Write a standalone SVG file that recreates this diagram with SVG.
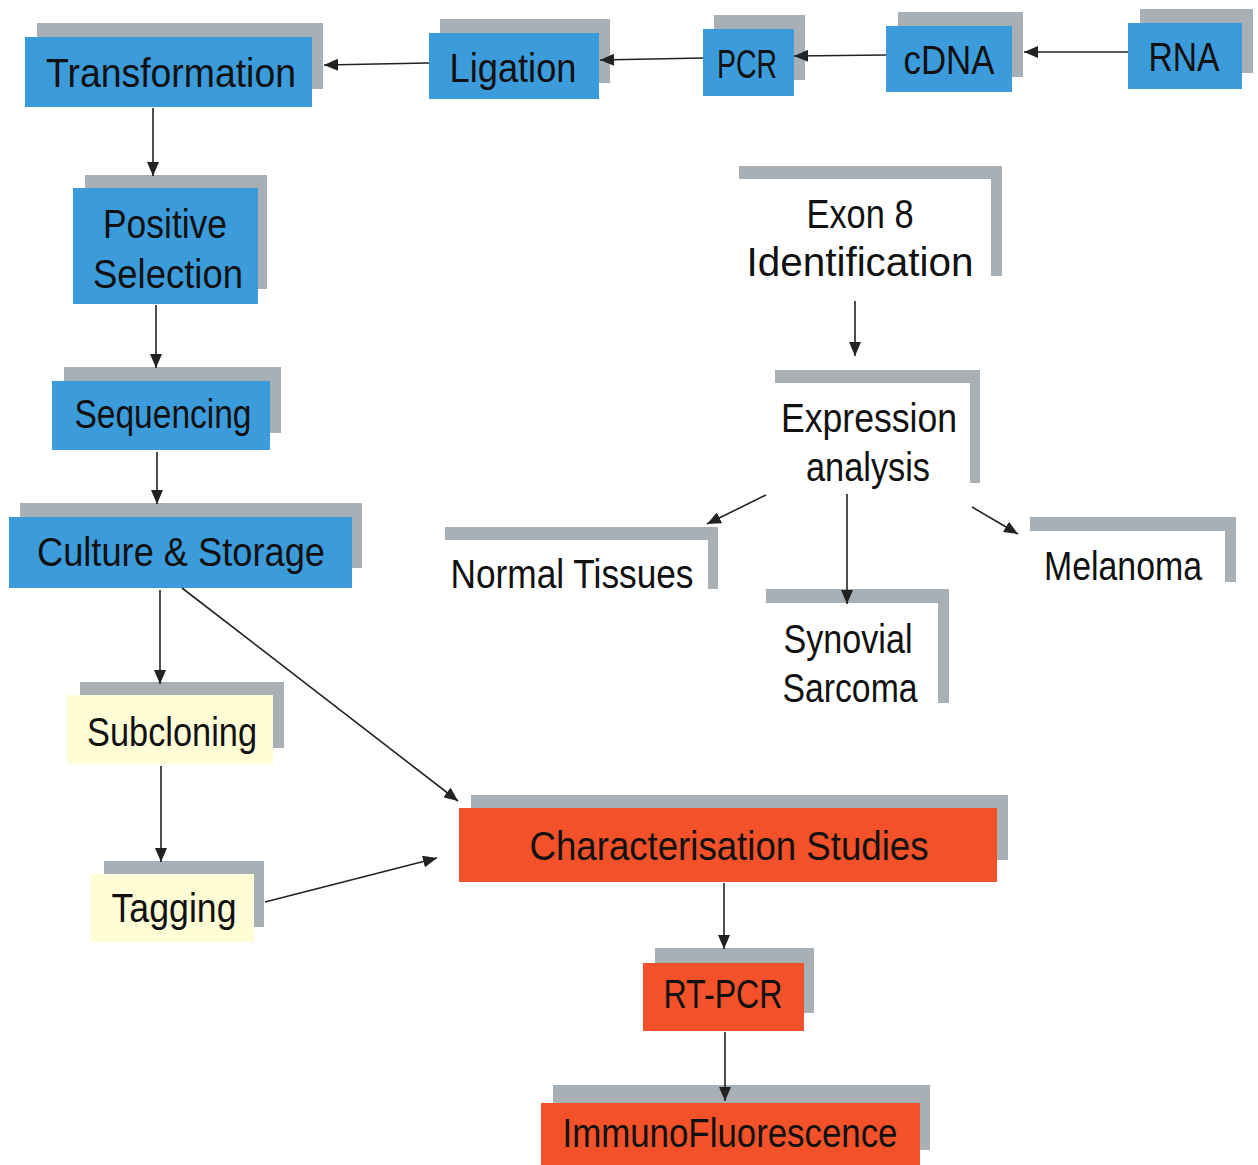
<svg xmlns="http://www.w3.org/2000/svg" width="1258" height="1165" viewBox="0 0 1258 1165">
<style>
.sh{fill:#A8B0B5}
.bl{fill:#3C9BDA}
.rd{fill:#F2512A}
.yl{fill:#FFFDD6}
.t{font-family:"Liberation Sans",Arial,sans-serif;font-size:40px;fill:#111;text-anchor:middle}
.c line{stroke:#222;stroke-width:1.6;marker-end:url(#ah)}
</style>
<defs>
<marker id="ah" markerUnits="userSpaceOnUse" markerWidth="14" markerHeight="12" refX="14" refY="6" orient="auto">
<path d="M0,0 L14,6 L0,12 z" fill="#222"/>
</marker>
</defs>
<rect width="1258" height="1165" fill="#fff"/>

<g id="transformation">
<rect class="sh" x="37" y="23" width="286" height="66"/>
<rect class="bl" x="25" y="37" width="287" height="70"/>
<text class="t" x="171" y="87" textLength="250" lengthAdjust="spacingAndGlyphs">Transformation</text>
</g>
<g id="ligation">
<rect class="sh" x="440" y="19" width="170" height="64"/>
<rect class="bl" x="429" y="33" width="170" height="66"/>
<text class="t" x="513" y="82" textLength="127" lengthAdjust="spacingAndGlyphs">Ligation</text>
</g>
<g id="pcr">
<rect class="sh" x="714" y="15" width="91" height="65"/>
<rect class="bl" x="703" y="29" width="91" height="67"/>
<text class="t" x="747" y="78" textLength="60" lengthAdjust="spacingAndGlyphs">PCR</text>
</g>
<g id="cdna">
<rect class="sh" x="898" y="12" width="125" height="65"/>
<rect class="bl" x="886" y="26" width="126" height="66"/>
<text class="t" x="949" y="74" textLength="91" lengthAdjust="spacingAndGlyphs">cDNA</text>
</g>
<g id="rna">
<rect class="sh" x="1140" y="9" width="113" height="64"/>
<rect class="bl" x="1128" y="23" width="114" height="66"/>
<text class="t" x="1184" y="71" textLength="71" lengthAdjust="spacingAndGlyphs">RNA</text>
</g>
<g id="positive-selection">
<rect class="sh" x="85" y="175" width="182" height="114"/>
<rect class="bl" x="73" y="188" width="185" height="116"/>
<text class="t" x="165" y="238" textLength="124" lengthAdjust="spacingAndGlyphs">Positive</text>
<text class="t" x="168" y="288" textLength="150" lengthAdjust="spacingAndGlyphs">Selection</text>
</g>
<g id="sequencing">
<rect class="sh" x="64" y="367" width="217" height="66"/>
<rect class="bl" x="52" y="381" width="218" height="69"/>
<text class="t" x="163" y="428" textLength="177" lengthAdjust="spacingAndGlyphs">Sequencing</text>
</g>
<g id="culture-storage">
<rect class="sh" x="20" y="503" width="342" height="65"/>
<rect class="bl" x="9" y="517" width="343" height="71"/>
<text class="t" x="181" y="566" textLength="288" lengthAdjust="spacingAndGlyphs">Culture &amp; Storage</text>
</g>
<g id="subcloning">
<rect class="sh" x="80" y="682" width="204" height="66"/>
<rect class="yl" x="67" y="695" width="206" height="69"/>
<text class="t" x="172" y="746" textLength="170" lengthAdjust="spacingAndGlyphs">Subcloning</text>
</g>
<g id="tagging">
<rect class="sh" x="104" y="861" width="160" height="66"/>
<rect class="yl" x="91" y="874" width="163" height="68"/>
<text class="t" x="174" y="922" textLength="125" lengthAdjust="spacingAndGlyphs">Tagging</text>
</g>
<g id="characterisation">
<rect class="sh" x="471" y="795" width="537" height="65"/>
<rect class="rd" x="459" y="808" width="538" height="74"/>
<text class="t" x="729" y="860" textLength="399" lengthAdjust="spacingAndGlyphs">Characterisation Studies</text>
</g>
<g id="rt-pcr">
<rect class="sh" x="655" y="948" width="159" height="65"/>
<rect class="rd" x="643" y="963" width="161" height="68"/>
<text class="t" x="723" y="1008" textLength="119" lengthAdjust="spacingAndGlyphs">RT-PCR</text>
</g>
<g id="immunofluorescence">
<rect class="sh" x="553" y="1085" width="377" height="65"/>
<rect class="rd" x="541" y="1103" width="379" height="62"/>
<text class="t" x="730" y="1147" textLength="335" lengthAdjust="spacingAndGlyphs">ImmunoFluorescence</text>
</g>
<g id="exon8">
<rect class="sh" x="739" y="166" width="263" height="13"/>
<rect class="sh" x="991" y="166" width="11" height="110"/>
<text class="t" x="860" y="228" textLength="107" lengthAdjust="spacingAndGlyphs">Exon 8</text>
<text class="t" x="860" y="276" textLength="227" lengthAdjust="spacingAndGlyphs">Identification</text>
</g>
<g id="expression">
<rect class="sh" x="775" y="370" width="205" height="13"/>
<rect class="sh" x="970" y="370" width="10" height="113"/>
<text class="t" x="869" y="432" textLength="176" lengthAdjust="spacingAndGlyphs">Expression</text>
<text class="t" x="868" y="481" textLength="124" lengthAdjust="spacingAndGlyphs">analysis</text>
</g>
<g id="normal-tissues">
<rect class="sh" x="445" y="527" width="273" height="13"/>
<rect class="sh" x="708" y="527" width="10" height="62"/>
<text class="t" x="572" y="588" textLength="243" lengthAdjust="spacingAndGlyphs">Normal Tissues</text>
</g>
<g id="synovial-sarcoma">
<rect class="sh" x="766" y="589" width="183" height="14"/>
<rect class="sh" x="938" y="589" width="11" height="114"/>
<text class="t" x="848" y="653" textLength="129" lengthAdjust="spacingAndGlyphs">Synovial</text>
<text class="t" x="850" y="702" textLength="135" lengthAdjust="spacingAndGlyphs">Sarcoma</text>
</g>
<g id="melanoma">
<rect class="sh" x="1030" y="517" width="206" height="14"/>
<rect class="sh" x="1225" y="517" width="11" height="65"/>
<text class="t" x="1123" y="580" textLength="158" lengthAdjust="spacingAndGlyphs">Melanoma</text>
</g>

<g id="connectors" class="c">
<line x1="1128" y1="52" x2="1024" y2="52"/>
<line x1="886" y1="55" x2="794" y2="56"/>
<line x1="703" y1="58" x2="600" y2="60"/>
<line x1="429" y1="63" x2="324" y2="65"/>
<line x1="153" y1="108" x2="153" y2="176"/>
<line x1="156" y1="305" x2="156" y2="368"/>
<line x1="157" y1="452" x2="157" y2="504"/>
<line x1="160" y1="590" x2="160" y2="684"/>
<line x1="182" y1="588" x2="458" y2="801"/>
<line x1="161" y1="766" x2="161" y2="862"/>
<line x1="265" y1="902" x2="437" y2="858"/>
<line x1="724" y1="883" x2="724" y2="949"/>
<line x1="725" y1="1032" x2="725" y2="1101"/>
<line x1="855" y1="301" x2="855" y2="356"/>
<line x1="766" y1="495" x2="707" y2="524"/>
<line x1="847" y1="494" x2="847" y2="604"/>
<line x1="972" y1="507" x2="1018" y2="534"/>
</g>
</svg>
